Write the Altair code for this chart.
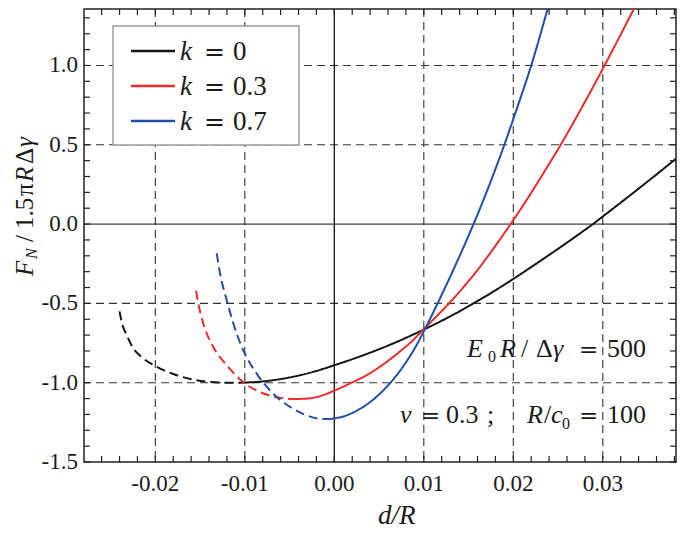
import altair as alt
import pandas as pd

# ---------------- data ----------------
K_VALUES = ["0", "0.3", "0.7"]
COLORS = ["#141414", "#ee2a2a", "#1f4fa8"]

k0_dash_x = [-0.0240, -0.0237, -0.0232, -0.0225, -0.0215, -0.0200, -0.0180, -0.0160, -0.0140, -0.0120, -0.0105]
k0_dash_y = [-0.55, -0.63, -0.70, -0.78, -0.84, -0.895, -0.945, -0.978, -0.995, -1.0, -1.0]
k0_sol_x = [-0.0105, -0.0080, -0.0050, -0.0020, 0.0000, 0.0025, 0.0050, 0.0075, 0.0100, 0.0125, 0.0150,
            0.0175, 0.0200, 0.0225, 0.0250, 0.0275, 0.0289, 0.0300, 0.0325, 0.0350, 0.0375, 0.0390]
k0_sol_y = [-1.0, -0.992, -0.967, -0.926, -0.890, -0.842, -0.789, -0.730, -0.665, -0.595, -0.518,
            -0.435, -0.346, -0.252, -0.156, -0.057, 0.0, 0.048, 0.157, 0.268, 0.381, 0.45]

k3_dash_x = [-0.01545, -0.0152, -0.01464, -0.01352, -0.0120, -0.0101, -0.0083, -0.0061, -0.0045]
k3_dash_y = [-0.42, -0.50, -0.627, -0.775, -0.891, -1.0, -1.059, -1.095, -1.103]
k3_sol_x = [-0.0045, -0.0030, -0.0015, 0.0000, 0.00175, 0.0040, 0.0055, 0.0073, 0.0087, 0.0100, 0.0115,
            0.0130, 0.0145, 0.0160, 0.0178, 0.0197, 0.0215, 0.0235, 0.0254, 0.0280, 0.0301, 0.0320, 0.0338]
k3_sol_y = [-1.103, -1.100, -1.083, -1.050, -1.005, -0.940, -0.883, -0.805, -0.737, -0.662, -0.577,
            -0.489, -0.393, -0.290, -0.153, 0.0, 0.153, 0.333, 0.51, 0.77, 0.99, 1.195, 1.393]

k7_dash_x = [-0.01314, -0.01277, -0.01202, -0.01128, -0.01017, -0.00867, -0.00682, -0.00458, -0.0030, -0.0015, -0.0005]
k7_dash_y = [-0.185, -0.311, -0.48, -0.627, -0.796, -0.943, -1.07, -1.165, -1.208, -1.228, -1.229]
k7_sol_x = [-0.0005, 0.0000, 0.0010, 0.0020, 0.0030, 0.0040, 0.0050, 0.0060, 0.0070, 0.0080, 0.0090, 0.0101,
            0.0115, 0.0130, 0.0145, 0.0160, 0.0175, 0.0190, 0.0205, 0.0220, 0.0240]
k7_sol_y = [-1.229, -1.225, -1.213, -1.191, -1.161, -1.122, -1.074, -1.017, -0.950, -0.872, -0.782, -0.665,
            -0.505, -0.325, -0.138, 0.06, 0.272, 0.50, 0.745, 1.0, 1.39]

X_TICKS = [-0.02, -0.01, 0.00, 0.01, 0.02, 0.03]
Y_TICKS = [-1.5, -1.0, -0.5, 0.0, 0.5, 1.0]
GRID_X = [-0.02, -0.01, 0.01, 0.02, 0.03]
GRID_Y = [-1.0, -0.5, 0.5, 1.0]
X_MINOR = [round(-0.026 + 0.002 * i, 3) for i in range(33)]
Y_MINOR = [round(-1.5 + 0.1 * i, 1) for i in range(29)]

# ---------------- layout ----------------
X_DOMAIN = [-0.02797, 0.03818]
Y_DOMAIN = [-1.5, 1.356]
W, H = 592, 453
OX, OY = 84, 9  # page position of plot origin


def px(x):
    return x - OX


def py(y):
    return y - OY


xs = alt.Scale(domain=X_DOMAIN, nice=False, zero=False)
ys = alt.Scale(domain=Y_DOMAIN, nice=False, zero=False)

rows = []
for kv, parts in zip(K_VALUES, [
    (("dashed", k0_dash_x, k0_dash_y), ("solid", k0_sol_x, k0_sol_y)),
    (("dashed", k3_dash_x, k3_dash_y), ("solid", k3_sol_x, k3_sol_y)),
    (("dashed", k7_dash_x, k7_dash_y), ("solid", k7_sol_x, k7_sol_y)),
]):
    for part, xx, yy in parts:
        for a, b in zip(xx, yy):
            rows.append({"d": a, "F": b, "k": kv, "part": part, "seg": kv + part})
df = pd.DataFrame(rows)

FONT = "Liberation Serif"
TXT = "#1a1a1a"

one = pd.DataFrame({"t": [0]})

grid_x = alt.Chart(pd.DataFrame({"v": GRID_X})).mark_rule(color="#333", strokeWidth=1.1, strokeDash=[8, 5]).encode(
    x=alt.X("v:Q", scale=xs, axis=None))
grid_y = alt.Chart(pd.DataFrame({"v": GRID_Y})).mark_rule(color="#333", strokeWidth=1.1, strokeDash=[8, 5]).encode(
    y=alt.Y("v:Q", scale=ys, axis=None))
zero_x = alt.Chart(pd.DataFrame({"v": [0.0]})).mark_rule(color="#111", strokeWidth=1.3).encode(
    x=alt.X("v:Q", scale=xs, axis=None))
zero_y = alt.Chart(pd.DataFrame({"v": [0.0]})).mark_rule(color="#111", strokeWidth=1.0).encode(
    y=alt.Y("v:Q", scale=ys, axis=None))

lines = alt.Chart(df).mark_line(strokeWidth=2, clip=True, interpolate="monotone").encode(
    x=alt.X("d:Q", scale=xs, axis=None),
    y=alt.Y("F:Q", scale=ys, axis=None),
    color=alt.Color("k:N", scale=alt.Scale(domain=K_VALUES, range=COLORS), legend=None),
    strokeDash=alt.StrokeDash("part:N", scale=alt.Scale(domain=["dashed", "solid"], range=[[9, 5], [1, 0]]), legend=None),
    detail="seg:N",
)

# tick labels, placed through the scales
xlab_df = pd.DataFrame({"v": X_TICKS, "lab": [f"{v:.2f}" for v in X_TICKS]})
ylab_df = pd.DataFrame({"v": Y_TICKS, "lab": [f"{v:.1f}" for v in Y_TICKS]})
xlabels = alt.Chart(xlab_df).mark_text(font=FONT, fontSize=23, color=TXT, align="center", baseline="alphabetic").encode(
    x=alt.X("v:Q", scale=xs, axis=None), y=alt.value(py(491)), text="lab:N")
ylabels = alt.Chart(ylab_df).mark_text(font=FONT, fontSize=23, color=TXT, align="right", baseline="middle").encode(
    y=alt.Y("v:Q", scale=ys, axis=None), x=alt.value(px(78)), text="lab:N")

TL = 6
tick_b = alt.Chart(pd.DataFrame({"v": X_MINOR})).mark_rule(color="#222", strokeWidth=1.2).encode(
    x=alt.X("v:Q", scale=xs, axis=None), y=alt.value(H), y2=alt.value(H - TL))
tick_t = alt.Chart(pd.DataFrame({"v": X_MINOR})).mark_rule(color="#222", strokeWidth=1.2).encode(
    x=alt.X("v:Q", scale=xs, axis=None), y=alt.value(0), y2=alt.value(TL))
tick_l = alt.Chart(pd.DataFrame({"v": Y_MINOR})).mark_rule(color="#222", strokeWidth=1.2).encode(
    y=alt.Y("v:Q", scale=ys, axis=None), x=alt.value(0), x2=alt.value(TL))
tick_r = alt.Chart(pd.DataFrame({"v": Y_MINOR})).mark_rule(color="#222", strokeWidth=1.2).encode(
    y=alt.Y("v:Q", scale=ys, axis=None), x=alt.value(W), x2=alt.value(W - TL))


def txt(s, x, y, size=24, italic=False, angle=None, font=FONT):
    kw = dict(text=s, align="left", baseline="alphabetic", fontSize=size,
              fontStyle="italic" if italic else "normal", font=font, color=TXT)
    if angle is not None:
        kw["angle"] = angle
    return alt.Chart(one).mark_text(**kw).encode(x=alt.value(px(x)), y=alt.value(py(y)))


# legend
legend_box = alt.Chart(one).mark_rect(fill="white", stroke="#9c9c9c", strokeWidth=1.5).encode(
    x=alt.value(px(113)), x2=alt.value(px(299)), y=alt.value(py(26)), y2=alt.value(py(145)))
legend_layers = [legend_box]
for i, (kv, c) in enumerate(zip(K_VALUES, COLORS)):
    yc = [51, 86, 121][i]
    legend_layers.append(alt.Chart(one).mark_rule(color=c, strokeWidth=2.5).encode(
        x=alt.value(px(131)), x2=alt.value(px(175)), y=alt.value(py(yc))))
    legend_layers.append(txt("k", 180, yc + 9, 27, italic=True))
    legend_layers.append(txt("=", 204, yc + 9, 25, font="DejaVu Serif"))
    legend_layers.append(txt(kv, 233, yc + 9, 27))

# annotations
ann = [
    txt("E", 467, 357, 26, True), txt("0", 488, 362, 16), txt("R", 500, 357, 26, True),
    txt("/", 521, 357, 26), txt("Δ", 536, 357, 26), txt("γ", 553, 357, 26, True),
    txt("=", 579, 357, 23, font="DejaVu Serif"), txt("500", 607, 357, 26),
    txt("ν", 400, 423, 26, True), txt("=", 421, 423, 23, font="DejaVu Serif"), txt("0.3", 446, 423, 26),
    txt(";", 487, 423, 26), txt("R", 527, 423, 26, True), txt("/", 544, 423, 26),
    txt("c", 551, 423, 26, True), txt("0", 562, 429, 16),
    txt("=", 579, 423, 23, font="DejaVu Serif"), txt("100", 607, 423, 26),
]

# axis titles
TB = 33  # baseline (page x) of the rotated y title
titles = [
    txt("d/R", 378, 524, 27, True),
    txt("F", TB, 276, 25, True, 270), txt("N", TB + 4, 259, 16, True, 270),
    txt("/", TB, 242, 25, False, 270), txt("1.5", TB, 229, 25, False, 270),
    txt("π", TB, 196, 25, False, 270), txt("R", TB, 182, 25, True, 270),
    txt("Δ", TB, 164, 25, False, 270), txt("γ", TB, 147, 25, True, 270),
]

chart = alt.layer(
    grid_x, grid_y, zero_x, zero_y, lines,
    *legend_layers, tick_b, tick_t, tick_l, tick_r, xlabels, ylabels, *ann, *titles
).properties(
    width=W, height=H,
    padding={"left": 76, "top": 1, "right": 1, "bottom": 68},
    autosize=alt.AutoSizeParams(type="none"),
).configure_view(stroke="#222", strokeWidth=1.5)

chart.save("out.html", embed_options={"renderer": "svg", "actions": False})
